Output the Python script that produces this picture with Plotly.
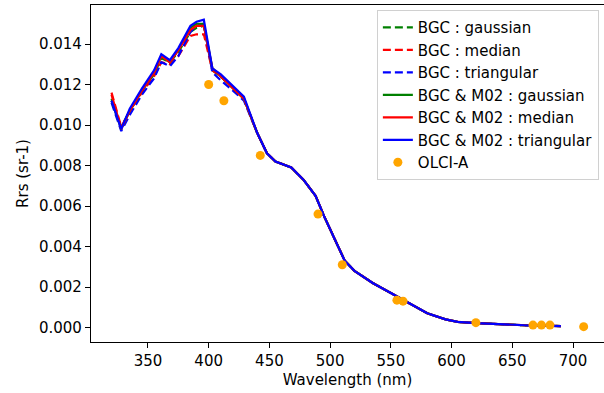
import plotly.graph_objects as go

# --- data ---
head_wl = [320, 328, 335, 345, 355, 361, 368, 375, 385, 390, 396, 403, 410, 420, 429]
tail_wl = [440, 448, 455, 468, 478, 488, 495, 505, 512, 520, 535, 550, 565, 580,
           595, 605, 620, 640, 660, 690]
tail_rrs = [0.0096, 0.0086, 0.0082, 0.0079, 0.0073, 0.0065, 0.0055, 0.0042, 0.0033,
            0.0028, 0.0022, 0.0017, 0.0012, 0.0007, 0.0004, 0.00028, 0.00022,
            0.00015, 0.00011, 0.00007]

bgc_gaussian_head = [0.0113, 0.0099, 0.0107, 0.0117, 0.0125, 0.0133, 0.0131, 0.0136,
                     0.0146, 0.0148, 0.0149, 0.0127, 0.0124, 0.0118, 0.0113]
bgc_median_head = [0.0116, 0.0099, 0.0107, 0.0116, 0.0124, 0.0131, 0.0130, 0.0134,
                   0.0144, 0.01448, 0.01448, 0.0127, 0.0124, 0.0118, 0.0113]
bgc_triangular_head = [0.0111, 0.0097, 0.0105, 0.0115, 0.0123, 0.0131, 0.0129, 0.0134,
                       0.0146, 0.0149, 0.0150, 0.0126, 0.0122, 0.0117, 0.0112]
m02_gaussian_head = [0.0112, 0.0098, 0.0107, 0.0117, 0.0126, 0.0134, 0.0131, 0.0137,
                     0.0148, 0.0150, 0.0150, 0.0128, 0.0124, 0.0118, 0.0113]
m02_median_head = [0.0115, 0.0098, 0.0107, 0.0117, 0.0126, 0.0134, 0.0131, 0.0137,
                   0.0147, 0.0149, 0.0149, 0.0128, 0.0124, 0.0118, 0.0113]
m02_triangular_head = [0.0112, 0.0098, 0.0108, 0.0118, 0.0127, 0.0135, 0.0132, 0.0138,
                       0.0149, 0.0151, 0.0152, 0.0128, 0.0125, 0.0119, 0.0114]

olci_wl = [400, 412.5, 442.5, 490, 510, 555, 560, 620, 667, 674, 681, 708.75]
olci_rrs = [0.0120, 0.0112, 0.0085, 0.0056, 0.0031, 0.00135, 0.0013, 0.00024,
            0.00012, 0.00012, 0.00012, 0.00004]

series = [
    ("BGC : gaussian", bgc_gaussian_head, "green", "8px,4px"),
    ("BGC : median", bgc_median_head, "red", "8px,4px"),
    ("BGC : triangular", bgc_triangular_head, "blue", "8px,4px"),
    ("BGC & M02 : gaussian", m02_gaussian_head, "green", "solid"),
    ("BGC & M02 : median", m02_median_head, "red", "solid"),
    ("BGC & M02 : triangular", m02_triangular_head, "blue", "solid"),
]

FONT = "DejaVu Sans"
fig = go.Figure()
wl = head_wl + tail_wl
for name, head, color, dash in series:
    fig.add_trace(go.Scatter(
        x=wl, y=head + tail_rrs, mode="lines", name=name,
        line=dict(color=color, width=2.2, dash=dash),
    ))
fig.add_trace(go.Scatter(
    x=olci_wl, y=olci_rrs, mode="markers", name="OLCI-A",
    marker=dict(color="orange", size=9, line=dict(width=0)),
))

axis_common = dict(
    showgrid=False, zeroline=False, showline=True, linecolor="black", linewidth=1.2,
    ticks="outside", ticklen=5, tickwidth=1.2, tickcolor="black",
    tickfont=dict(family=FONT, size=15, color="black"),
)
fig.update_layout(
    width=604, height=393,
    margin=dict(l=91, r=0, t=5, b=51),
    paper_bgcolor="white", plot_bgcolor="white",
    font=dict(family=FONT, size=15, color="black"),
    xaxis=dict(
        **axis_common, mirror=True, range=[303.1, 725.5],
        tickmode="array", tickvals=[350, 400, 450, 500, 550, 600, 650, 700],
        title=dict(text="Wavelength (nm)", font=dict(family=FONT, size=15), standoff=5),
    ),
    yaxis=dict(
        **axis_common, mirror=False, range=[-0.000716, 0.015926],
        tickmode="array", tickvals=[0, 0.002, 0.004, 0.006, 0.008, 0.010, 0.012, 0.014],
        tickformat=".3f",
        title=dict(text="Rrs (sr-1)", font=dict(family=FONT, size=15), standoff=6),
    ),
    legend=dict(
        x=0.99, y=0.985, xanchor="right", yanchor="top",
        bgcolor="rgba(255,255,255,0.8)", bordercolor="#d0d0d0", borderwidth=1,
        font=dict(family=FONT, size=15, color="black"),
    ),
    showlegend=True,
)

fig.write_html("out.html")
